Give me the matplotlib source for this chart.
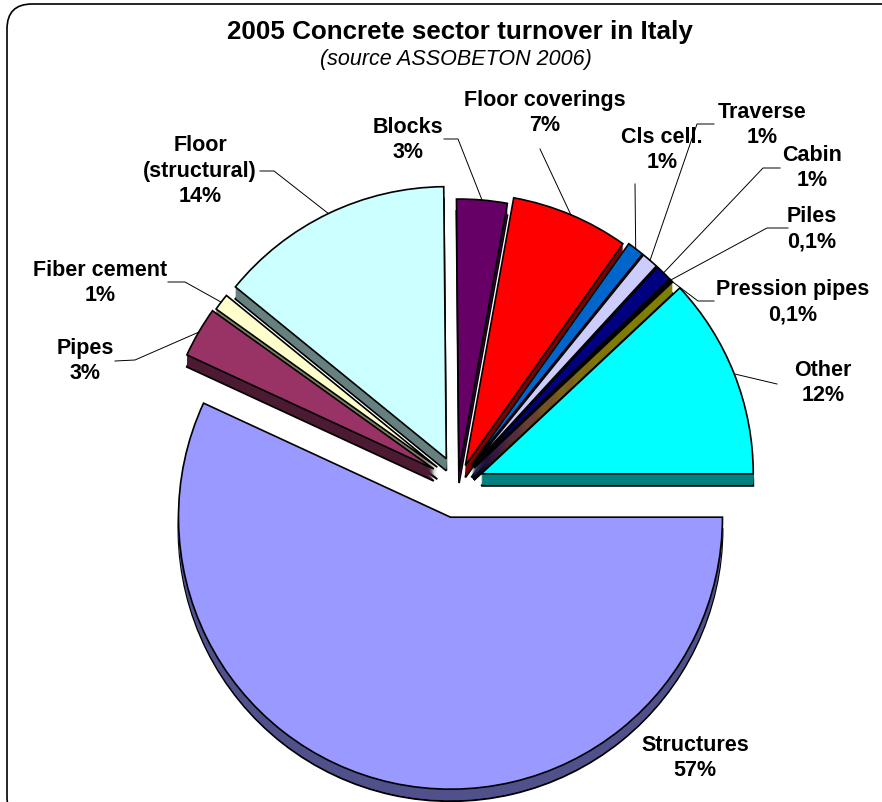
import matplotlib
matplotlib.use("Agg")
import matplotlib.pyplot as plt
from matplotlib.patches import FancyBboxPatch
import numpy as np

W, H = 882, 803

# slices, counter-clockwise starting at 3 o'clock
sectors = ['Other', 'Pression pipes', 'Piles', 'Cabin', 'Traverse', 'Cls cell.',
           'Floor coverings', 'Blocks', 'Floor\n(structural)', 'Fiber cement',
           'Pipes', 'Structures']
shares = [12, 0.1, 0.1, 1, 1, 1, 7, 3, 14, 1, 3, 57]

top_colors = ['#00FFFF', '#FFFF00', '#FF00FF', '#000080', '#CCCCFF', '#0066CC',
              '#FF0000', '#660066', '#CCFFFF', '#FFFFCC', '#993366', '#9999FF']
side_colors = ['#008080', '#808000', '#800080', '#000040', '#666680', '#003366',
               '#800000', '#330033', '#668080', '#808066', '#4D1A33', '#50508A']
explode_px = [25, 22, 22, 22, 22, 22, 19, 12, 27, 26, 28, 35]

# label layout (pixel coords, y from top)
label_xy = [(823, 383), (793, 302), (812, 229), (812, 168), (762, 125), (662, 150),
            (545, 113), (408, 140), (200, 171), (100, 283), (85, 361), (695, 758)]
leader_pts = [[(777, 385)], [(714, 302), (698, 302)], [(788, 229), (767, 229)],
              [(780, 169), (763, 169)], [(714, 125), (697, 125)], [(635, 185)],
              [(540, 150)], [(444, 140), (458, 140)], [(260, 172), (274, 172)],
              [(168, 283), (185, 283)], [(115, 362), (135, 361)], None]

cx, cy = 458, H - 484
radius = 272
depth = 12

fig = plt.figure(figsize=(W / 100, H / 100), dpi=100)
ax = fig.add_axes([0, 0, 1, 1])

# extruded sides: stack of darker pies shifted downwards
for k in range(depth, 0, -1):
    lw = 1.4 if k == depth else 0
    ax.pie(shares, colors=side_colors, explode=explode_px, radius=radius,
           center=(cx, cy - k), startangle=0, counterclock=True,
           wedgeprops=dict(edgecolor='black', linewidth=lw))

# top faces
ax.pie(shares, colors=top_colors, explode=explode_px, radius=radius,
       center=(cx, cy), startangle=0, counterclock=True,
       wedgeprops=dict(edgecolor='black', linewidth=1.2))

# labels and leader lines
total = sum(shares)
cum = np.cumsum([0] + shares) / total * 360
for i, name in enumerate(sectors):
    mid = np.deg2rad((cum[i] + cum[i + 1]) / 2)
    ox = cx + explode_px[i] * np.cos(mid)
    oy = cy + explode_px[i] * np.sin(mid)
    end = (ox + radius * np.cos(mid), oy + radius * np.sin(mid))
    if leader_pts[i] is not None:
        xs = [p[0] for p in leader_pts[i]] + [end[0]]
        ys = [H - p[1] for p in leader_pts[i]] + [end[1]]
        ax.plot(xs, ys, color='black', lw=0.7)
    pct = f"{shares[i]:g}%".replace('.', ',')
    lx, ly = label_xy[i]
    ax.text(lx, H - ly, f"{name}\n{pct}", ha='center', va='center',
            fontsize=15.5, fontweight='bold', linespacing=1.3,
            family='Liberation Sans')

ax.text(460, H - 32, '2005 Concrete sector turnover in Italy', ha='center',
        va='center', fontsize=18.7, fontweight='bold', family='Liberation Sans')
ax.text(456, H - 60, '(source ASSOBETON 2006)', ha='center', va='center',
        fontsize=15.5, style='italic', family='Liberation Sans')

border = FancyBboxPatch((7, -20), 900, H - 5 + 20,
                        boxstyle='round,pad=0,rounding_size=25',
                        facecolor='none', edgecolor='black', lw=1.2)
ax.add_patch(border)

ax.set_xlim(0, W)
ax.set_ylim(0, H)
ax.set_aspect('equal')
ax.axis('off')
fig.savefig('out.png', dpi=100)
